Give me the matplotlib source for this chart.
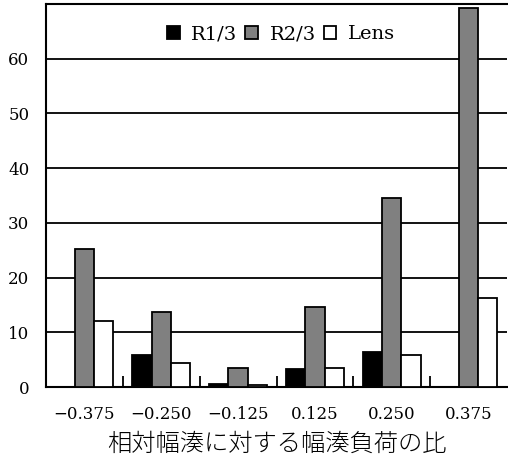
import matplotlib
matplotlib.use("Agg")
import matplotlib.pyplot as plt
import numpy as np
from matplotlib.patches import Patch

categories = ["\u22120.375", "\u22120.250", "\u22120.125", "0.125", "0.250", "0.375"]
r13 = [0.0, 5.9, 0.5, 3.2, 6.4, 0.0]
r23 = [25.2, 13.7, 3.5, 14.7, 34.5, 69.3]
lens = [12.0, 4.4, 0.4, 3.5, 5.8, 16.3]
series_names = ["R1/3", "R2/3", "Lens"]
colors = ["#000000", "#808080", "#ffffff"]
xlabel = "相対幅湊に対する幅湊負荷の比"

plt.rcParams['font.family'] = ['DejaVu Serif']

fig = plt.figure(figsize=(5.08, 4.62), dpi=100)
ax = fig.add_axes([46/508, 1-387/462, (507-46)/508, (387-4)/462])

x = np.arange(len(categories))
w = 0.25
for i, (vals, c) in enumerate(zip([r13, r23, lens], colors)):
    ax.bar(x + (i-1)*w, vals, width=w, color=c, edgecolor='black', linewidth=1.3, zorder=3)

ax.set_xlim(-0.5, len(categories)-0.5)
ax.set_ylim(0, 70)
ax.set_yticks(np.arange(0, 70, 10))
ax.yaxis.grid(True, color='black', linewidth=1.3, zorder=1)
ax.set_axisbelow(True)
ax.tick_params(axis='y', length=0, labelsize=12, pad=12)
ax.set_xticks(x)
ax.set_xticklabels(categories)
ax.tick_params(axis='x', which='major', length=0, labelsize=12, pad=14)
ax.set_xticks(x[:-1] + 0.5, minor=True)
ax.tick_params(axis='x', which='minor', direction='in', length=8, width=1.3)
for s in ax.spines.values():
    s.set_linewidth(1.5)
ax.spines['right'].set_visible(False)

ax.set_xlabel(xlabel, fontsize=17.5, family=['Noto Sans CJK JP'], fontweight='light', labelpad=6)

handles = [Patch(facecolor=c, edgecolor='black', linewidth=1.3) for c in colors]
ax.legend(handles, series_names, loc='upper center', bbox_to_anchor=(0.51, 0.99), ncol=3,
          frameon=False, fontsize=14, handlelength=0.65, handleheight=0.65,
          handletextpad=0.6, columnspacing=0.4)

fig.savefig("out.png", dpi=100)
